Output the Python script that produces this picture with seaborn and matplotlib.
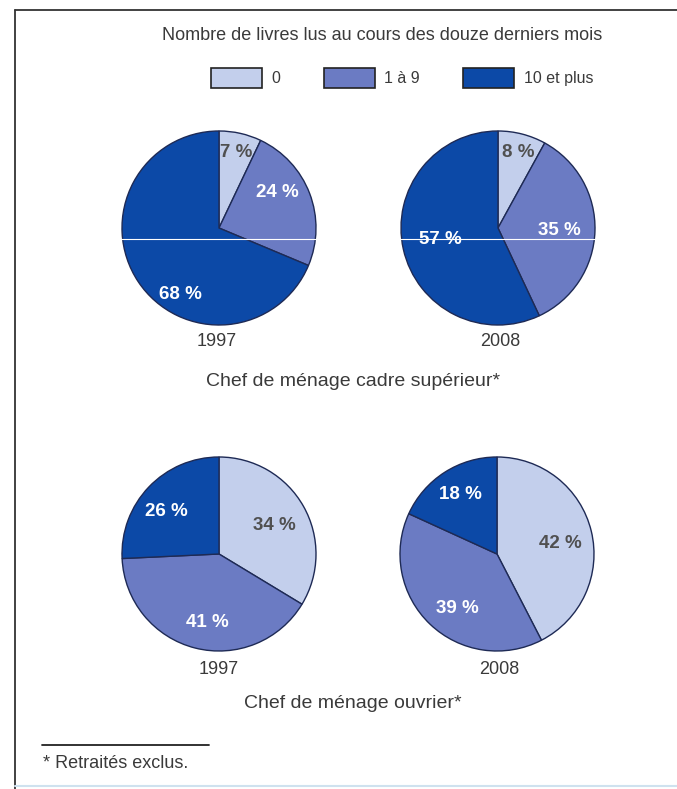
import matplotlib
matplotlib.use("Agg")
import matplotlib.pyplot as plt
from matplotlib.lines import Line2D
from matplotlib.patches import Patch
import seaborn as sns

sns.set_theme(style="white")
plt.rcParams['font.family'] = ['Liberation Sans', 'DejaVu Sans']

# data
categories = ['0', '1 à 9', '10 et plus']
years = ['1997', '2008']
cadre_1997 = [7, 24, 68]
cadre_2008 = [8, 35, 57]
ouvrier_1997 = [34, 41, 26]
ouvrier_2008 = [42, 39, 18]
groups = ['Chef de ménage cadre supérieur*', 'Chef de ménage ouvrier*']

palette = sns.color_palette(['#c3cfec', '#6b7bc3', '#0c49a7'])
txt_cols = ['#505050', 'white', 'white']
grey = '#3a3a3a'

W, H = 677, 789
fig = plt.figure(figsize=(W / 100, H / 100), dpi=100)

def px_axes(cx, cy, r):
    return fig.add_axes([(cx - r) / W, 1 - (cy + r) / H, 2 * r / W, 2 * r / H])

# pie layout: center x, center y (pixels), label offsets in radius units
pies = [
    (cadre_1997, 219, 228, [(0.18, 0.78), (0.60, 0.37), (-0.40, -0.69)]),
    (cadre_2008, 498, 228, [(0.21, 0.78), (0.63, -0.03), (-0.59, -0.12)]),
    (ouvrier_1997, 219, 554, [(0.57, 0.29), (-0.12, -0.71), (-0.54, 0.44)]),
    (ouvrier_2008, 497, 554, [(0.65, 0.11), (-0.41, -0.56), (-0.38, 0.61)]),
]
R = 97
for vals, cx, cy, lpos in pies:
    ax = px_axes(cx, cy, R + 2)
    ax.pie(vals, colors=palette, startangle=90, counterclock=False,
           radius=1, wedgeprops=dict(edgecolor='#1e2a55', linewidth=1.0))
    for v, (lx, ly), c in zip(vals, lpos, txt_cols):
        ax.text(lx, ly, f'{v} %', ha='center', va='center', color=c,
                fontsize=13.5, fontweight='bold')
    ax.set_xlim(-(R + 2) / R, (R + 2) / R)
    ax.set_ylim(-(R + 2) / R, (R + 2) / R)
    ax.set_aspect('equal')
    ax.axis('off')

def ftext(x, y, s, **kw):
    fig.text(x / W, 1 - y / H, s, color=grey, ha='center', va='center', **kw)

# years and group captions
for cx, y, yr in [(217, 342, years[0]), (500, 342, years[1]),
                  (219, 669, years[0]), (499, 669, years[1])]:
    ftext(cx, y, yr, fontsize=13)
ftext(353, 381, groups[0], fontsize=14)
ftext(353, 703, groups[1], fontsize=14)

# title + legend
ftext(382, 35, 'Nombre de livres lus au cours des douze derniers mois', fontsize=13)
handles = [Patch(facecolor=palette[i], edgecolor='#222222', linewidth=1.2) for i in range(3)]
fig.legend(handles, categories, loc='center', bbox_to_anchor=(402 / W, 1 - 78 / H),
           ncol=3, frameon=False, fontsize=11.5, handlelength=3.2, handleheight=1.6,
           handletextpad=0.6, columnspacing=2.7, labelcolor=grey)

# footnote
fig.add_artist(Line2D([42 / W, 209 / W], [1 - 745 / H] * 2, color='#222222', lw=1.3))
fig.text(43 / W, 1 - 764 / H, '* Retraités exclus.', color=grey, ha='left',
         va='center', fontsize=13)

# frame
fig.add_artist(Line2D([15 / W, 15 / W], [0, 1 - 10 / H], color='#333333', lw=1.3))
fig.add_artist(Line2D([15 / W, 1], [1 - 10 / H] * 2, color='#333333', lw=1.3))
fig.add_artist(Line2D([15 / W, 1], [1 - 786 / H] * 2, color='#cfe2ef', lw=1.5))
# thin scan line crossing the top pies
fig.add_artist(Line2D([17 / W, 1], [1 - 239 / H] * 2, color='white', lw=0.8, zorder=10))

fig.savefig('out.png', dpi=100)
